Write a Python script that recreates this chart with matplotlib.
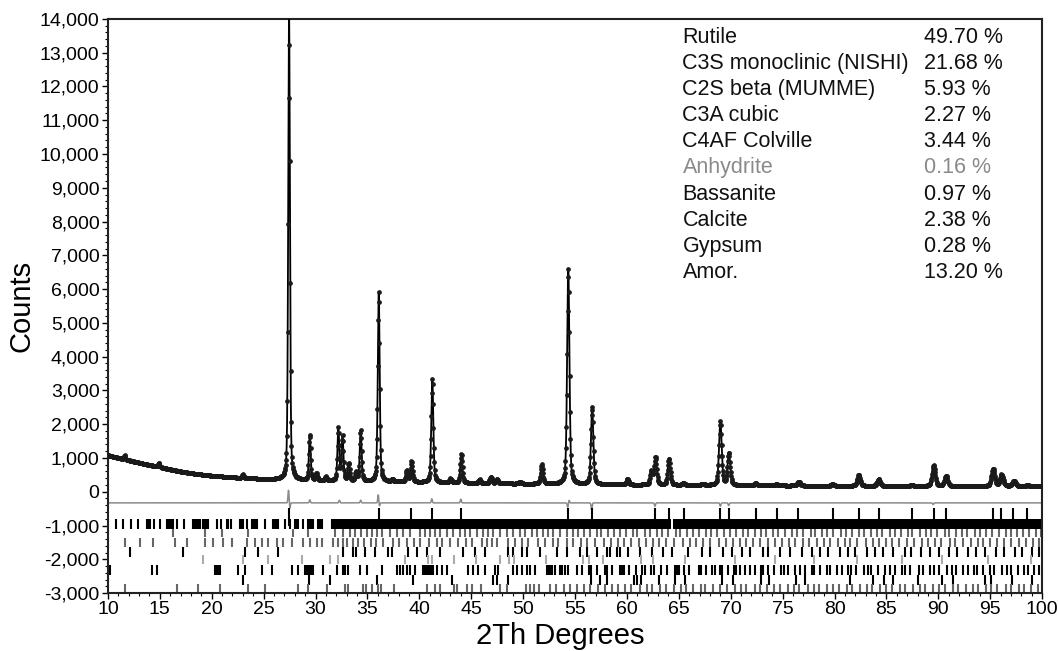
import numpy as np
import matplotlib
matplotlib.use("Agg")
import matplotlib.pyplot as plt
from matplotlib.ticker import MultipleLocator, FuncFormatter

plt.rcParams["font.family"] = ["Liberation Sans", "DejaVu Sans"]

# background knots (2theta, counts)
bg_x = [10, 11, 12, 13, 14, 15, 16, 17, 18, 19, 20, 21, 22, 23, 24, 25, 27, 30, 35, 40, 45, 50, 55, 60, 70, 80, 90, 100]
bg_y = [1080, 1000, 930, 860, 790, 730, 660, 600, 550, 510, 475, 450, 425, 405, 390, 375, 350, 330, 300, 280, 255, 235, 220, 205, 190, 175, 165, 160]

# observed peaks: position (deg) and height above background (counts)
peak_pos = [11.6, 14.9, 23.0, 27.45, 29.45, 30.1, 31.0, 32.2, 32.6, 33.2, 33.9, 34.35,
            36.09, 37.4, 38.8, 39.25, 41.25, 43.0, 44.05, 45.8, 46.9, 47.5, 49.7, 51.8,
            54.35, 56.65, 60.05, 62.35, 62.75, 64.05, 65.45, 67.3, 69.0, 69.82, 72.4, 74.4,
            76.55, 79.82, 82.33, 84.25, 87.45, 89.55, 90.75, 95.28, 96.1, 97.3, 98.6]
peak_h = [120, 110, 110, 13900, 1350, 200, 120, 1550, 1300, 520, 250, 1500,
          5650, 80, 350, 620, 3080, 120, 860, 110, 200, 120, 60, 580,
          6400, 2280, 170, 400, 820, 780, 60, 40, 1880, 950, 60, 40,
          120, 50, 330, 200, 30, 620, 310, 510, 340, 160, 30]

# difference curve: offset and local features
diff_offset = -330
diff_pos = [27.40, 27.52, 29.45, 32.3, 34.35, 36.05, 36.15, 41.2, 44.0, 54.3, 54.42, 56.6, 62.7, 69.0, 69.8, 89.5]
diff_amp = [380, -170, 90, 80, 80, 250, -110, 120, 110, -130, 80, -210, -100, -100, -80, -50]

phases = ["Rutile", "C3S monoclinic (NISHI)", "C2S beta (MUMME)", "C3A cubic", "C4AF Colville",
          "Anhydrite", "Bassanite", "Calcite", "Gypsum", "Amor."]
wt_pct = ["49.70 %", "21.68 %", "5.93 %", "2.27 %", "3.44 %", "0.16 %", "0.97 %", "2.38 %", "0.28 %", "13.20 %"]

# reflection tick positions (deg) per phase
rutile_hkl = [27.45, 36.09, 39.19, 41.23, 44.05, 54.32, 56.64, 62.74, 64.04, 65.48, 69.01, 69.79,
              72.41, 74.41, 76.51, 79.82, 82.33, 84.26, 87.46, 89.55, 90.70, 95.27, 96.03, 97.17, 98.57]
c3s_hkl = [10.74, 11.48, 12.22, 12.92, 13.73, 13.85, 14.05, 14.47, 15.01, 15.65, 15.8, 15.97, 16.12, 16.30,
           16.62, 17.32, 18.22, 18.38, 18.54, 18.7, 18.87, 19.19, 19.35, 19.52, 19.67, 20.47, 20.89,
           21.44, 21.6, 21.85, 22.72, 22.88, 23.04, 23.36, 23.85, 24.0, 24.17, 24.33, 25.13, 25.93,
           26.05, 26.16, 26.3, 26.42, 27.06, 27.54, 28.02, 28.18, 28.34, 28.83, 29.31, 29.47, 29.63,
           29.79, 30.27, 30.43, 30.59, 31.56, 31.72, 31.88, 32.04, 32.2, 32.36, 32.52]
c3s_band_lo = [32.6, 64.45]
c3s_band_hi = [64.2, 100.0]
c2s_hkl = [16.30, 19.35, 20.95, 23.52, 27.86, 29.31, 31.88, 32.68, 33.32, 33.80, 34.35, 34.93, 35.41,
           35.89, 36.37, 37.17, 37.82, 38.39, 39.10, 40.07, 40.55, 41.03, 41.51, 42.0, 42.63, 43.28,
           43.92, 44.4, 44.88, 45.52, 46.17, 46.65, 47.13, 47.77, 48.42, 49.06, 49.7, 50.18, 50.83,
           51.31, 51.95, 52.43, 52.91, 53.56, 54.2, 54.84, 55.3, 55.9, 56.4, 57.1, 57.5, 58.2, 58.8,
           59.3, 59.9, 60.6, 61.0, 61.7, 62.2, 62.9, 63.4, 64.0, 64.7, 65.1, 65.8, 66.4, 66.9, 67.6,
           68.1, 68.7, 69.4, 69.9, 70.5, 71.2, 71.7, 72.3, 72.9, 73.4, 74.1, 74.6, 75.2, 75.9, 76.4,
           77.0, 77.7, 78.1, 78.8, 79.3, 79.9, 80.6, 81.1, 81.7, 82.4, 82.8, 83.5, 84.1, 84.6, 85.3,
           85.8, 86.4, 87.1, 87.5, 88.2, 88.8, 89.3, 89.9, 90.6, 91.0, 91.7, 92.3, 92.8, 93.5, 94.0,
           94.6, 95.2, 95.8, 96.5, 97.0, 97.6, 98.2, 98.7, 99.4, 99.9]
c3a_hkl = [11.64, 13.08, 14.37, 16.46, 17.58, 19.35, 20.15, 21.11, 21.92, 23.36, 24.17, 24.81, 25.45,
           26.25, 26.90, 27.70, 28.82, 29.47, 30.11, 30.59, 31.72, 32.20, 32.68, 33.0, 33.64, 34.12,
           34.67, 35.31, 35.82, 36.47, 37.49, 38.07, 38.78, 39.49, 40.07, 40.96, 41.67, 42.15, 42.96,
           43.76, 44.5, 45.04, 46.0, 46.49, 46.97, 47.45, 48.58, 49.22, 49.86, 50.5, 51.47, 52.11,
           52.91, 53.4, 54.2, 54.84, 55.6, 56.2, 56.9, 57.8, 58.5, 59.1, 59.7, 60.4, 61.2, 61.8, 62.5,
           63.1, 63.8, 64.5, 65.4, 66.1, 66.7, 67.3, 68.0, 68.9, 69.5, 70.2, 70.9, 71.5, 72.1, 72.8,
           73.6, 74.3, 74.9, 75.6, 76.2, 77.0, 77.5, 78.3, 79.0, 79.6, 80.3, 81.0, 81.5, 82.2, 83.0,
           83.7, 84.3, 85.0, 85.5, 86.2, 87.0, 87.7, 88.4, 89.0, 89.7, 90.3, 91.1, 91.6, 92.4, 93.1,
           93.8, 94.3, 95.0, 95.7, 96.3, 97.0, 97.8, 98.4, 99.1, 99.7]
c4af_hkl = [12.12, 17.26, 23.20, 24.49, 26.42, 32.68, 33.64, 33.90, 34.76, 35.73, 37.01, 37.33, 38.94,
            39.74, 40.71, 41.99, 44.24, 45.36, 46.33, 48.58, 49.06, 49.86, 50.34, 51.63, 53.24, 54.20,
            55.48, 56.12, 57.09, 58.05, 58.37, 59.02, 59.34, 60.14, 61.26, 62.39, 63.51, 64.32, 65.92,
            67.21, 68.01, 69.29, 70.10, 71.06, 71.86, 73.15, 73.63, 74.76, 75.72, 76.84, 77.81, 78.6,
            79.4, 80.5, 81.3, 82.0, 83.1, 83.9, 84.7, 85.6, 86.8, 87.4, 88.3, 89.2, 90.1, 91.0, 91.8,
            92.9, 93.6, 94.5, 95.6, 96.3, 97.4, 98.1, 99.0, 99.7]
anhydrite_hkl = [19.19, 23.04, 25.45, 28.66, 31.4, 32.2, 38.65, 40.85, 41.2, 43.35, 45.5, 47.8, 48.6,
                 49.1, 52.25, 55.75, 56.3, 57.7, 61.4, 62.5, 65.6, 70.4, 74.3, 78.0, 82.2, 86.5, 90.4,
                 94.8, 98.9]
bassanite_hkl = [10.19, 14.21, 14.69, 20.31, 20.47, 20.63, 20.79, 22.56, 23.20, 24.81, 25.77, 27.70,
                 28.34, 28.98, 29.15, 29.31, 29.47, 29.63, 29.79, 30.75, 32.04, 32.68, 32.84, 33.12,
                 34.28, 34.93, 36.37, 37.82, 38.14, 38.46, 38.78, 39.10, 39.58, 40.39, 40.55, 40.71,
                 40.87, 41.03, 41.19, 41.35, 41.67, 42.16, 42.64, 44.72, 45.20, 45.69, 46.33, 47.29,
                 47.61, 49.06, 49.38, 49.86, 50.34, 50.66, 51.14, 52.27, 52.43, 52.59, 52.75, 53.07,
                 53.55, 53.71, 54.04, 54.36, 55.2, 55.7, 56.3, 56.5, 57.1, 57.9, 58.1, 58.6, 59.3, 59.5,
                 59.7, 60.2, 60.9, 61.5, 61.7, 62.3, 62.6, 63.3, 63.9, 64.6, 64.8, 65.0, 65.5, 66.0,
                 66.9, 67.1, 67.6, 68.2, 68.5, 69.0, 69.2, 69.7, 70.3, 70.5, 70.9, 71.4, 71.9, 72.3,
                 72.9, 73.1, 73.6, 74.2, 74.8, 75.1, 75.5, 76.2, 76.7, 77.2, 77.8, 78.0, 78.6, 79.3,
                 79.6, 80.2, 80.7, 81.3, 81.6, 82.1, 82.8, 83.2, 83.5, 84.2, 84.9, 85.3, 85.8, 86.5,
                 86.8, 87.3, 88.1, 88.5, 89.2, 89.6, 90.1, 90.8, 91.3, 91.7, 92.4, 92.9, 93.4, 93.7,
                 94.3, 95.0, 95.4, 96.1, 96.6, 97.0, 97.7, 98.3, 98.6, 99.2, 99.7]
calcite_hkl = [23.06, 29.41, 31.44, 35.97, 39.40, 43.15, 47.11, 47.49, 48.51, 56.57, 57.40, 58.10,
               60.68, 61.00, 61.40, 63.07, 64.67, 65.60, 69.20, 70.24, 72.94, 73.70, 76.30, 77.15,
               81.50, 83.75, 84.80, 85.65, 88.0, 90.4, 91.4, 94.5, 95.1, 97.1, 99.0]
gypsum_hkl = [11.64, 16.62, 18.71, 20.79, 23.52, 25.13, 28.34, 29.31, 31.07, 32.84, 33.16, 34.6,
              34.9, 35.4, 36.0, 36.3, 37.6, 40.7, 41.5, 42.0, 43.3, 43.6, 44.6, 45.1, 45.9, 47.8,
              48.4, 50.3, 50.7, 51.0, 51.5, 52.6, 53.2, 53.9, 54.5, 55.2, 55.9, 56.4, 57.2, 57.9, 58.6,
              59.1, 59.8, 60.4, 61.3, 61.9, 62.4, 63.2, 63.8, 64.5, 65.2, 65.7, 66.4, 67.1, 67.5, 68.3,
              69.0, 69.6, 70.4, 71.0, 71.5, 72.3, 72.8, 73.5, 74.2, 74.7, 75.5, 76.1, 76.6, 77.4, 78.0,
              78.5, 79.3, 79.9, 80.4, 81.2, 81.7, 82.5, 83.1, 83.6, 84.4, 85.0, 85.5, 86.3, 86.8, 87.6,
              88.2, 88.7, 89.5, 90.1, 90.6, 91.4, 91.9, 92.7, 93.3, 93.8, 94.6, 95.1, 95.7, 96.5, 97.0,
              97.8, 98.3, 98.9, 99.6]

tick_sets = [
    (rutile_hkl, -480, -1000, "black"),
    (c3s_hkl, -820, -1110, "black"),
    (c2s_hkl, -1100, -1350, "#666666"),
    (c3a_hkl, -1380, -1640, "#666666"),
    (c4af_hkl, -1650, -1930, "black"),
    (anhydrite_hkl, -1880, -2150, "#aaaaaa"),
    (bassanite_hkl, -2180, -2460, "black"),
    (calcite_hkl, -2480, -2760, "black"),
    (gypsum_hkl, -2720, -2980, "#666666"),
]


def pseudo_voigt(x, pos, h):
    fwhm = 0.15 + 0.0025 * (pos - 10)
    d = (x - pos) / fwhm
    return h * (0.4 / (1 + 4 * d ** 2) + 0.6 * np.exp(-4 * np.log(2) * d ** 2))


tt = np.arange(10, 100.001, 0.02)
calc = np.interp(tt, bg_x, bg_y)
for p, h in zip(peak_pos, peak_h):
    calc = calc + pseudo_voigt(tt, p, h)

diff = np.full_like(tt, diff_offset, dtype=float)
for p, a in zip(diff_pos, diff_amp):
    diff = diff + a * np.exp(-0.5 * ((tt - p) / 0.05) ** 2)

fig = plt.figure(figsize=(10.58, 6.51), dpi=100)
ax = fig.add_axes([0.102, 0.089, 0.883, 0.882])

ax.plot(tt, calc, color="black", lw=1.3, zorder=3)
ax.plot(tt[::2], calc[::2], ls="none", marker="o", ms=2.4, color="#1a1a1a", zorder=4)
ax.plot(tt, diff, color="#8a8a8a", lw=1.1, zorder=2)

for pos, y0, y1, col in tick_sets:
    ax.vlines(pos, y1, y0, color=col, lw=1.5)
for lo, hi in zip(c3s_band_lo, c3s_band_hi):
    ax.fill_between([lo, hi], -1110, -820, color="black", lw=0)

ax.set_xlim(10, 100)
ax.set_ylim(-3000, 14000)
ax.xaxis.set_major_locator(MultipleLocator(5))
ax.xaxis.set_minor_locator(MultipleLocator(1))
ax.yaxis.set_major_locator(MultipleLocator(1000))
ax.yaxis.set_minor_locator(MultipleLocator(200))
ax.yaxis.set_major_formatter(FuncFormatter(lambda v, _: f"{v:,.0f}"))
ax.tick_params(which="major", length=4, width=1, labelsize=14, pad=2)
ax.tick_params(which="minor", length=2, width=0.8)
for s in ax.spines.values():
    s.set_linewidth(1.5)
    s.set_color("#222222")

fig.text(22 / 1058, 1 - 306 / 651, "Counts", rotation=90, ha="center", va="center", fontsize=21)
fig.text(560 / 1058, 1 - 636 / 651, "2Th Degrees", ha="center", va="center", fontsize=21)

for i, (name, val) in enumerate(zip(phases, wt_pct)):
    col = "#8a8a8a" if name == "Anhydrite" else "#111111"
    y = 0.968 - i * 0.0455
    ax.text(0.615, y, name, transform=ax.transAxes, fontsize=15.5, color=col, va="center")
    ax.text(0.874, y, val, transform=ax.transAxes, fontsize=15.5, color=col, va="center")

fig.savefig("out.png", dpi=100)
